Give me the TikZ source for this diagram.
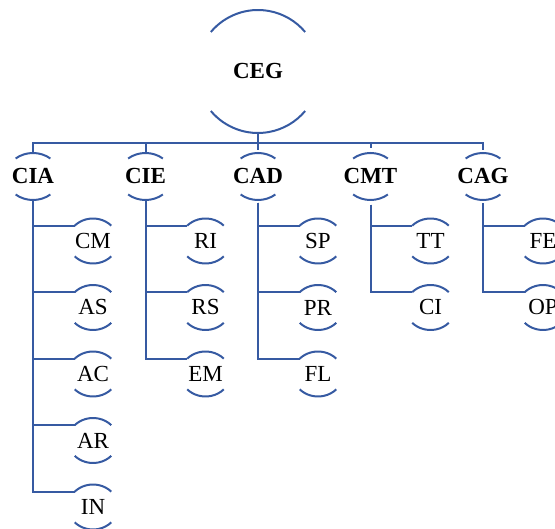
\documentclass[tikz,border=0pt]{standalone}
\usepackage{fontspec}
\setmainfont{Liberation Serif}
\definecolor{orgblue}{RGB}{54,90,162}

% #1 node, #2 x radius, #3 y radius, #4 angle where the caps end
\newcommand\caps[4]{\draw[link] ([shift={(180-#4:#2 and #3)}]#1.center)
    arc[start angle=180-#4,end angle=#4,x radius=#2,y radius=#3]
  ([shift={(180+#4:#2 and #3)}]#1.center)
    arc[start angle=180+#4,end angle=360-#4,x radius=#2,y radius=#3];}

\begin{document}
\begin{tikzpicture}[x=1pt,y=1pt]
  \tikzset{unit/.style={circle,minimum size=45pt,inner sep=0pt,font=\fontsize{23}{23}\selectfont},
    head/.style={unit,minimum size=47pt,font=\bfseries\fontsize{23}{23}\selectfont},
    chief/.style={head,minimum size=123pt},
    link/.style={draw=orgblue,line width=2pt}}
  \useasboundingbox (0,0) rectangle (555,-529);
  \clip (0,0) rectangle (555,-529);
  \node(ceg)[chief] at (258,-71.5){CEG};
  \caps{ceg}{61.5pt}{61.5pt}{40}
  \foreach\nm/\lbl/\x/\kids in {cia/CIA/33/{CM,AS,AC,AR,IN},cie/CIE/145.5/{RI,RS,EM},
    cad/CAD/258/{SP,PR,FL},cmt/CMT/370.5/{TT,CI},cag/CAG/483/{FE,OP}}{
    \node(\nm)[head] at (\x,-176.5){\lbl};
    \caps{\nm}{27pt}{23.5pt}{50}
    \draw[link] (ceg.south) -- ++(0,-10) -| (\nm.north);
    \foreach\kid[count=\k] in \kids{\node(\nm-\k)[unit] at (\x+60,-174.5-66.5*\k){\kid};
      \caps{\nm-\k}{25pt}{22.5pt}{43}
      \coordinate(\nm-\k-in) at ([shift={(137:25pt and 22.5pt)}]\nm-\k.center);
      \draw[link] (\nm.south) |- (\nm-\k-in);}}
\end{tikzpicture}
\end{document}
